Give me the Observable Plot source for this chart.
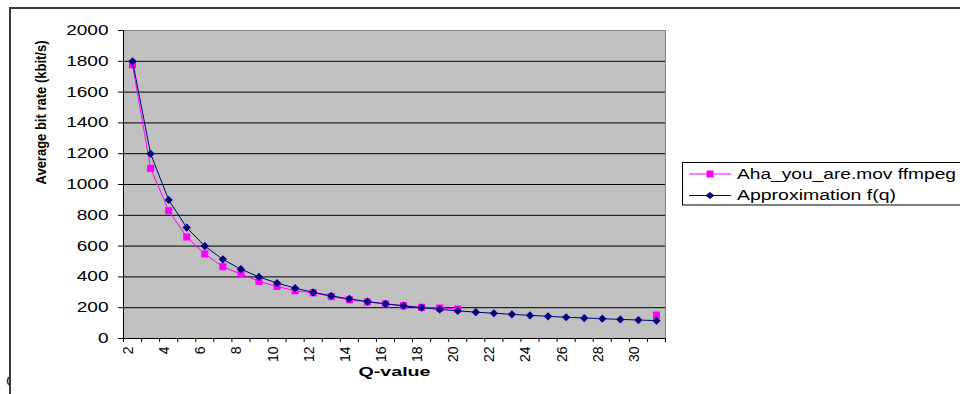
<!DOCTYPE html>
<html>
<head>
<meta charset="utf-8">
<script src="https://cdn.jsdelivr.net/npm/d3@7"></script>
<script src="https://cdn.jsdelivr.net/npm/@observablehq/plot@0.6"></script>
<style>
  html, body { margin: 0; padding: 0; background: white; }
  #chart { position: relative; width: 960px; height: 394px; overflow: hidden; }
  #chart svg { display: block; }
  #border { position: absolute; left: 9px; top: 7px; width: 1000px; height: 500px;
            border-top: 2px solid #3a3a3a; border-left: 2px solid #3a3a3a; pointer-events: none; }
  #frag { position: absolute; left: 0; top: 372px; width: 9px; height: 22px; overflow: hidden; }
  #frag span { position: absolute; left: 6px; top: 0; font: 15px 'Liberation Sans', Arial, sans-serif; color: #222; }
</style>
</head>
<body>
<div id="chart"><div id="frag"><span>C</span></div></div>
<script>
// ---- data ----
const categories = [2, 3, 4, 5, 6, 7, 8, 9, 10, 11, 12, 13, 14, 15, 16, 17, 18, 19, 20, 21, 22, 23, 24, 25, 26, 27, 28, 29, 30, 31];
const measured = [1777, 1105, 830, 659, 549, 466, 419, 371, 338, 310, 297, 272, 252, 237, 224, 213, 202, 198, 191, null, null, null, null, null, null, null, null, null, null, 152];
const approximation = [1800, 1200, 900, 720, 600, 514, 450, 400, 360, 327, 300, 277, 257, 240, 225, 212, 200, 189, 180, 171, 164, 157, 150, 144, 138, 133, 129, 124, 120, 116];
const yTicks = [0, 200, 400, 600, 800, 1000, 1200, 1400, 1600, 1800, 2000];
const xTickLabels = [2, 4, 6, 8, 10, 12, 14, 16, 18, 20, 22, 24, 26, 28, 30];
const seriesNames = ["Aha_you_are.mov ffmpeg", "Approximation f(q)"];
const seriesColors = ["#ff00ff", "#000080"];
const xTitle = "Q-value";
const yTitle = "Average bit rate (kbit/s)";

const data = categories.map((q, i) => ({q, measured: measured[i], approx: approximation[i]}));
const boundaries = categories.map(q => q - 0.5).concat([categories[categories.length - 1] + 0.5]);
const xDomain = [boundaries[0], boundaries[boundaries.length - 1]];

const chart = Plot.plot({
  width: 960,
  height: 394,
  marginLeft: 123,
  marginRight: 295,
  marginTop: 30,
  marginBottom: 56,
  x: {type: "linear", domain: xDomain, axis: null},
  y: {domain: [0, 2000], axis: null},
  style: {background: "white", fontFamily: "'Liberation Sans', Arial, sans-serif", fontSize: "14px", color: "black", overflow: "hidden"},
  marks: [
    Plot.frame({fill: "#c0c0c0", stroke: null}),
    Plot.ruleY(yTicks.filter(v => v > 0 && v < 2000), {stroke: "black", strokeWidth: 1}),
    Plot.frame({stroke: "#808080", fill: null}),
    Plot.ruleX([xDomain[0]], {stroke: "black"}),
    Plot.ruleY([0], {stroke: "black"}),
    Plot.axisY({ticks: yTicks, tickSize: 5, tickPadding: 10, tickFormat: d => String(d), label: null, stroke: "black", fontSize: 14}),
    Plot.axisX({ticks: boundaries, tickSize: 4, tickFormat: () => "", label: null, stroke: "black"}),
    Plot.axisX({ticks: xTickLabels, tickSize: 0, tickPadding: 8, tickRotate: -90, label: null, fontSize: 14, dx: -4}),
    Plot.line(data, {x: "q", y: "measured", stroke: seriesColors[0], strokeWidth: 1}),
    Plot.dot(data, {x: "q", y: "measured", symbol: "square", fill: seriesColors[0], r: 4}),
    Plot.line(data, {x: "q", y: "approx", stroke: seriesColors[1], strokeWidth: 1}),
    Plot.dot(data, {x: "q", y: "approx", symbol: "diamond2", fill: seriesColors[1], r: 3.7}),
    Plot.text([xTitle], {text: d => d, frameAnchor: "bottom", dy: 37.5, fontWeight: "bold", fontSize: 13.5, className: "xtitle"}),
    Plot.text([yTitle], {text: d => d, frameAnchor: "left", rotate: -90, dx: -82, fontWeight: "bold", fontSize: 14, className: "ytitle"})
  ]
});

const container = document.getElementById("chart");
container.insertBefore(chart, container.firstChild);
const borderDiv = document.createElement("div");
borderDiv.id = "border";
container.appendChild(borderDiv);

const svg = d3.select(chart);

// stretch / compress texts like the original rendering
svg.selectAll('g[aria-label="y-axis tick label"] text').each(function() {
  const len = this.getComputedTextLength();
  d3.select(this).attr("textLength", len * 1.36).attr("lengthAdjust", "spacingAndGlyphs");
});
svg.selectAll(".xtitle text").attr("textLength", 72).attr("lengthAdjust", "spacingAndGlyphs");
svg.selectAll(".ytitle text").attr("textLength", 144).attr("lengthAdjust", "spacingAndGlyphs");

// legend
const lg = svg.append("g")
  .attr("font-family", "'Liberation Sans', Arial, sans-serif")
  .attr("font-size", 14)
  .attr("text-anchor", "start");
lg.append("rect").attr("x", 682.5).attr("y", 162.5).attr("width", 320).attr("height", 42.5)
  .attr("fill", "white").attr("stroke", "black");
const rows = [174, 195.5];
const textLens = [219, 159];
seriesNames.forEach((name, i) => {
  const y = rows[i];
  lg.append("line").attr("x1", 689).attr("x2", 731).attr("y1", y).attr("y2", y).attr("stroke", seriesColors[i]);
  if (i === 0) {
    lg.append("rect").attr("x", 706.5).attr("y", y - 3.5).attr("width", 7).attr("height", 7).attr("fill", seriesColors[i]);
  } else {
    lg.append("path").attr("d", `M710,${y - 3.5}L714.5,${y}L710,${y + 3.5}L705.5,${y}Z`).attr("fill", seriesColors[i]);
  }
  lg.append("text").attr("x", 737).attr("y", y).attr("dy", "0.35em").attr("text-anchor", "start").text(name)
    .attr("fill", "black")
    .attr("textLength", textLens[i]).attr("lengthAdjust", "spacingAndGlyphs");
});
</script>
</body>
</html>
